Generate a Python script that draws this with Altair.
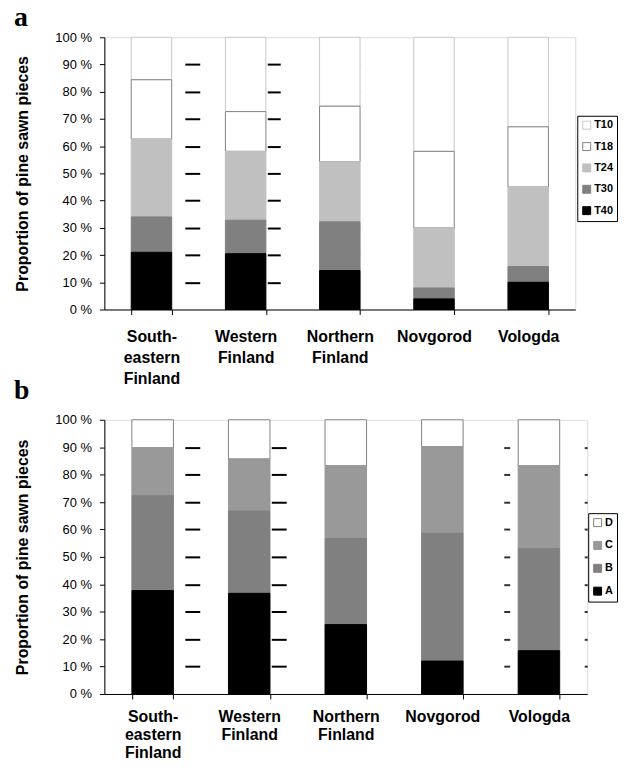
import altair as alt
import pandas as pd

# ---------------- data ----------------
regions = ["South-\neastern\nFinland", "Western\nFinland", "Northern\nFinland", "Novgorod", "Vologda"]

# panel a : timber size classes (percent of pine sawn pieces)
classes_a = ["T10", "T18", "T24", "T30", "T40"]
t40 = [21.0, 20.5, 14.3, 3.9, 10.0]
t30 = [13.0, 12.3, 17.9, 4.0, 5.8]
t24 = [28.6, 25.3, 22.1, 22.1, 29.2]
t18 = [21.8, 14.6, 20.4, 28.1, 22.1]
t10 = [15.6, 27.3, 25.3, 41.9, 32.9]

# panel b : grades (percent of pine sawn pieces)
classes_b = ["D", "C", "B", "A"]
grade_a = [37.7, 36.7, 25.3, 12.0, 15.8]
grade_b = [34.6, 30.0, 31.4, 46.6, 37.2]
grade_c = [17.5, 19.0, 26.5, 31.6, 30.2]
grade_d = [10.2, 14.3, 16.8, 9.8, 16.8]

y_ticks = [0, 10, 20, 30, 40, 50, 60, 70, 80, 90, 100]
dash_ticks = [10, 20, 30, 40, 50, 60, 70, 80, 90]

fills_a = ["white", "white", "#c0c0c0", "#808080", "black"]
strokes_a = ["#c8c8c8", "#808080", "#c0c0c0", "#808080", "black"]
fills_b = ["white", "#999999", "#808080", "black"]
strokes_b = ["#808080", "#999999", "#808080", "black"]


def long_df(classes, series):
    rows = []
    n = len(classes)
    for k, (cls, vals) in enumerate(zip(classes, series)):
        for reg, v in zip(regions, vals):
            rows.append({"region": reg, "cls": cls, "value": v, "rank": n - 1 - k})
    return pd.DataFrame(rows)


df_a = long_df(classes_a, [t10, t18, t24, t30, t40])
df_b = long_df(classes_b, [grade_d, grade_c, grade_b, grade_a])

SANS = "Liberation Sans"
SERIF = "Liberation Serif"


def panel(df, classes, fills, strokes, letter, width, height, lx, ly,
          row_pad, dashes, title_offset, lab_pad, lab_lh):
    legend = alt.Legend(
        title=None, orient="none", legendX=lx, legendY=ly,
        strokeColor="black", fillColor="white", padding=4,
        symbolType="square", symbolSize=64, symbolStrokeColor="#666666",
        symbolStrokeWidth=1, labelFont=SANS, labelFontSize=11,
        labelFontWeight="bold", labelColor="black", rowPadding=row_pad,
        labelOffset=2, cornerRadius=0,
    )
    xscale = alt.Scale(paddingInner=0.57, paddingOuter=0.285)
    xaxis = alt.Axis(
        title=None, labelAngle=0,
        labelExpr="split(datum.label, '\\n')",
        labelFont=SANS, labelFontSize=16, labelFontWeight="bold",
        labelColor="black", labelPadding=lab_pad, labelLineHeight=lab_lh,
        tickBand="extent", tickSize=5, tickColor="black",
        domainColor="black", grid=False,
    )

    bars = alt.Chart(df).mark_bar(strokeWidth=1).encode(
        x=alt.X("region:N", sort=regions, scale=xscale, axis=xaxis),
        y=alt.Y(
            "value:Q", stack="zero",
            scale=alt.Scale(domain=[0, 100], nice=False),
            axis=alt.Axis(
                title="Proportion of pine sawn pieces", values=y_ticks,
                labelExpr="datum.value + ' %'", labelFont=SANS,
                labelFontSize=13, labelColor="black", labelPadding=8,
                tickSize=5, tickColor="black", domainColor="black",
                grid=False, titleFont=SANS, titleFontSize=16,
                titleFontWeight="bold", titleColor="black", titlePadding=25,
            ),
        ),
        fill=alt.Fill("cls:N", scale=alt.Scale(domain=classes, range=fills),
                      legend=legend),
        stroke=alt.Stroke("cls:N", scale=alt.Scale(domain=classes, range=strokes),
                          legend=None),
        order=alt.Order("rank:Q", sort="ascending"),
    )

    layers = [bars]
    for off, size, color, w in dashes:
        layers.append(
            alt.Chart(df).mark_bar(opacity=0).encode(
                x=alt.X("region:N", sort=regions, scale=xscale, axis=xaxis),
                y=alt.Y("value:Q", stack="zero",
                        scale=alt.Scale(domain=[0, 100], nice=False),
                        axis=alt.Axis(orient="left", offset=off, values=dash_ticks,
                                      labels=False, domain=False, ticks=True,
                                      tickSize=size, tickColor=color, tickWidth=w,
                                      grid=False, title=None))
            )
        )
    return alt.layer(*layers).resolve_axis(y="independent").properties(
        width=width, height=height,
        title=alt.Title(letter, anchor="start", frame="bounds", font=SERIF,
                        fontSize=28, fontWeight="bold", color="black",
                        offset=title_offset),
    )


dashes_a = [(-96, 15, "black", 2), (-177, 13, "black", 2),
            (-257, 2, "#555555", 1), (-408, 2, "#555555", 1)]
dashes_b = [(-96, 15, "black", 2), (-183, 15, "black", 2),
            (-408, 6, "#333333", 2), (-486, 3, "#333333", 2)]

pa = panel(df_a, classes_a, fills_a, strokes_a, "a", 474, 274, 476, 79, 8.5,
           dashes_a, -1, 14, 21)
pb = panel(df_b, classes_b, fills_b, strokes_b, "b", 486, 276, 487, 94, 10,
           dashes_b, 9, 10, 18)

chart = alt.vconcat(pa, pb, spacing=-11).resolve_scale(
    fill="independent", stroke="independent"
).configure_view(stroke="#808080", strokeWidth=1).configure(
    padding={"left": 5, "top": -7, "right": 0, "bottom": 0}, background="white"
)

chart.save("out.html", embed_options={"renderer": "svg", "actions": False})
